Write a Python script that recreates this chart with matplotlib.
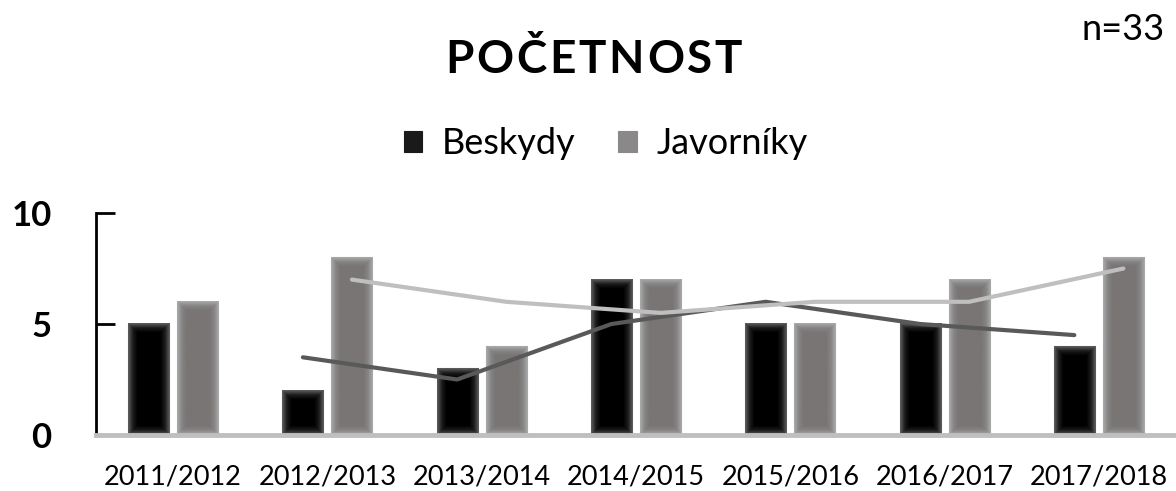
import numpy as np
import matplotlib.pyplot as plt
from matplotlib.colors import LinearSegmentedColormap

# data
seasons = ['2011/2012', '2012/2013', '2013/2014', '2014/2015', '2015/2016', '2016/2017', '2017/2018']
beskydy = [5, 2, 3, 7, 5, 5, 4]
javorniky = [6, 8, 4, 7, 5, 7, 8]
title = 'POČETNOST'

# 2-period moving average, as Excel trendline
def moving_avg(vals):
    return [(vals[i - 1] + vals[i]) / 2 for i in range(1, len(vals))]

plt.rcParams['font.family'] = ['Lato', 'DejaVu Sans']

fig = plt.figure(figsize=(11.76, 4.91), dpi=100)
ax = fig.add_axes([96 / 1176, 1 - 435 / 491, 1080 / 1176, 222 / 491])

x = np.arange(len(seasons))
w = 0.266
off = 0.159

cmap_black = LinearSegmentedColormap.from_list('b', ['#5a5a5a', '#1a1a1a', '#000000'])
cmap_gray = LinearSegmentedColormap.from_list('g', ['#a8a8a8', '#858383', '#787574'])

def gradient_bars(bars, cmap):
    px_per_x = 1080 / 7.0
    px_per_y = 222 / 10.0
    for b in bars:
        bx, by = b.get_x(), b.get_y()
        bw, bh = b.get_width(), b.get_height()
        nw = max(int(bw * px_per_x), 2)
        nh = max(int(bh * px_per_y), 2)
        xx = np.minimum(np.arange(nw), np.arange(nw)[::-1])
        yy = np.minimum(np.arange(nh), np.arange(nh)[::-1])
        d = np.minimum(xx[None, :], yy[:, None]).astype(float)
        val = np.clip(d / 9.0, 0, 1)
        ax.imshow(val, cmap=cmap, vmin=0, vmax=1, extent=[bx, bx + bw, by, by + bh],
                  aspect='auto', interpolation='bilinear', clip_path=b, zorder=2)

b1 = ax.bar(x - off, beskydy, w, color='#000000', edgecolor='#9a9a9a', linewidth=0.8,
            label='Beskydy', zorder=1)
b2 = ax.bar(x + off, javorniky, w, color='#7a7776', edgecolor='#b5b5b5', linewidth=0.8,
            label='Javorníky', zorder=1)
gradient_bars(b1, cmap_black)
gradient_bars(b2, cmap_gray)

ax.plot(x[1:] - off, moving_avg(beskydy), color='#595959', lw=3, zorder=4, solid_capstyle='round')
ax.plot(x[1:] + off, moving_avg(javorniky), color='#bfbfbf', lw=3, zorder=4, solid_capstyle='round')

ax.set_xlim(-0.5, 6.5)
ax.set_ylim(0, 10)
ax.set_yticks([0, 5, 10])
ax.set_yticklabels(['0', '5', '10'], fontsize=25, fontweight='bold')
ax.tick_params(axis='y', direction='in', length=14, width=2, pad=32, color='black')
ax.set_xticks(x)
ax.set_xticklabels(seasons, fontsize=19.5)
ax.tick_params(axis='x', length=0, pad=21)

for s in ['top', 'right']:
    ax.spines[s].set_visible(False)
ax.spines['left'].set_linewidth(2)
ax.spines['left'].set_color('black')
ax.spines['bottom'].set_linewidth(3.5)
ax.spines['bottom'].set_color('#bfbfbf')
ax.spines['bottom'].set_zorder(5)

# title with letter spacing: place letters one by one
renderer = fig.canvas.get_renderer()
letters = [fig.text(0, 0.878, ch, fontsize=33, fontweight='bold', va='center', ha='left')
           for ch in title]
widths = [t.get_window_extent(renderer).width for t in letters]
total_px = 297.0
gap = (total_px - sum(widths)) / (len(letters) - 1)
xpos = 445.0
for t, wd in zip(letters, widths):
    t.set_x(xpos / 1176)
    xpos += wd + gap

fig.text(0.99, 0.94, 'n=33', ha='right', va='center', fontsize=26)

leg = fig.legend(handles=[b1, b2], labels=['Beskydy', 'Javorníky'], loc='center',
                 bbox_to_anchor=(0.515, 0.707), ncol=2, frameon=False, fontsize=26,
                 handlelength=0.5, handleheight=0.5, handletextpad=0.55, columnspacing=1.2)
for h, c in zip(leg.legend_handles, ['#1a1a1a', '#8a8888']):
    h.set_facecolor(c)
    h.set_edgecolor(c)

fig.savefig('out.png', dpi=100)
